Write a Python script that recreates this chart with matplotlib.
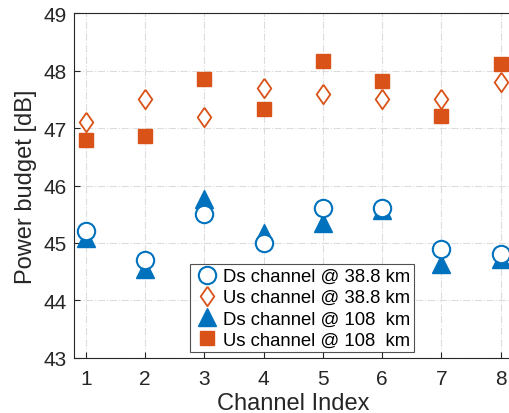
import matplotlib
matplotlib.use("Agg")
import matplotlib.pyplot as plt

plt.rcParams["font.family"] = ["Liberation Sans", "DejaVu Sans"]

channels = [1, 2, 3, 4, 5, 6, 7, 8]
ds_38 = [45.2, 44.7, 45.5, 45.0, 45.6, 45.6, 44.9, 44.8]
us_38 = [47.1, 47.5, 47.2, 47.7, 47.6, 47.5, 47.5, 47.8]
ds_108 = [45.08, 44.55, 45.77, 45.17, 45.35, 45.57, 44.63, 44.72]
us_108 = [46.8, 46.86, 47.85, 47.33, 48.17, 47.82, 47.21, 48.12]

blue = "#0072BD"
orange = "#D95319"
diamond = [(0, 1), (0.7, 0), (0, -1), (-0.7, 0), (0, 1)]

fig = plt.figure(figsize=(5.1, 4.14), dpi=100)
ax = fig.add_axes([0.145, 0.133, 0.86, 0.833])

ax.plot(channels, ds_38, linestyle="none", marker="o", ms=12.5,
        mfc="white", mec=blue, mew=1.5, zorder=5,
        label="Ds channel @ 38.8 km")
ax.plot(channels, us_38, linestyle="none", marker=diamond, ms=14,
        mfc="white", mec=orange, mew=1.3, zorder=4,
        label="Us channel @ 38.8 km")
ax.plot(channels, ds_108, linestyle="none", marker="^", ms=13,
        mfc=blue, mec=blue, zorder=3,
        label="Ds channel @ 108  km")
ax.plot(channels, us_108, linestyle="none", marker="s", ms=10,
        mfc=orange, mec=orange, zorder=3,
        label="Us channel @ 108  km")

ax.set_xlim(0.8, 8.2)
ax.set_ylim(43, 49)
ax.set_xticks(channels)
ax.set_yticks(range(43, 50))
ax.tick_params(direction="in", labelsize=15, length=4, color="#262626",
               labelcolor="#262626", top=False, right=False, pad=5)
ax.tick_params(axis="x", pad=8)
ax.grid(True, color="#dcdcdc", linestyle="-.", linewidth=0.8)
ax.set_axisbelow(True)
for s in ["left", "bottom", "top"]:
    ax.spines[s].set_color("#262626")
    ax.spines[s].set_linewidth(0.8)
ax.spines["right"].set_visible(False)

ax.set_xlabel("Channel Index", fontsize=17, color="#262626", labelpad=3)
ax.set_ylabel("Power budget [dB]", fontsize=17, color="#262626", labelpad=5)

leg = ax.legend(loc="lower left", bbox_to_anchor=(0.264, 0.017),
                fontsize=13.3, frameon=True, fancybox=False,
                borderpad=0.2, labelspacing=0.22, handletextpad=0.1,
                handlelength=1.5, borderaxespad=0)
leg.get_frame().set_edgecolor("#262626")
leg.get_frame().set_linewidth(0.8)
leg.set_zorder(10)

fig.savefig("out.png", dpi=100)
